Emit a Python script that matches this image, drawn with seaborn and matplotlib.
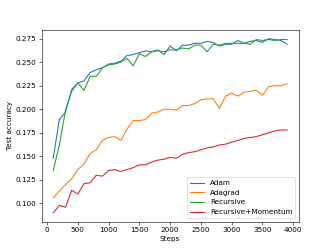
import pandas as pd
import numpy as np
import matplotlib
matplotlib.use("Agg")
import matplotlib.pyplot as plt
import seaborn as sns

steps = list(range(100, 4000, 100))

adam = [0.148, 0.189, 0.197, 0.221, 0.228, 0.230, 0.239, 0.242, 0.244, 0.248,
        0.249, 0.251, 0.257, 0.258, 0.260, 0.262, 0.261, 0.263, 0.258, 0.267,
        0.262, 0.268, 0.268, 0.270, 0.270, 0.272, 0.271, 0.267, 0.269, 0.269,
        0.273, 0.270, 0.272, 0.273, 0.271, 0.275, 0.274, 0.273, 0.269]

adagrad = [0.106, 0.113, 0.120, 0.126, 0.136, 0.142, 0.153, 0.157, 0.167, 0.170,
           0.171, 0.167, 0.179, 0.188, 0.188, 0.189, 0.196, 0.197, 0.200, 0.200,
           0.199, 0.204, 0.204, 0.206, 0.210, 0.211, 0.211, 0.201, 0.214, 0.217,
           0.214, 0.218, 0.219, 0.220, 0.215, 0.224, 0.225, 0.225, 0.227]

recursive = [0.135, 0.162, 0.199, 0.219, 0.228, 0.220, 0.235, 0.235, 0.244, 0.247,
             0.248, 0.250, 0.254, 0.246, 0.259, 0.256, 0.261, 0.262, 0.261, 0.263,
             0.263, 0.265, 0.264, 0.268, 0.268, 0.261, 0.269, 0.268, 0.270, 0.270,
             0.270, 0.270, 0.269, 0.274, 0.273, 0.274, 0.273, 0.274, 0.274]

momentum = [0.090, 0.098, 0.096, 0.114, 0.110, 0.121, 0.122, 0.130, 0.129, 0.135,
            0.136, 0.134, 0.136, 0.138, 0.141, 0.141, 0.144, 0.146, 0.147, 0.149,
            0.148, 0.152, 0.154, 0.155, 0.157, 0.159, 0.160, 0.162, 0.163, 0.165,
            0.167, 0.169, 0.170, 0.171, 0.173, 0.175, 0.177, 0.178, 0.178]

labels = ["Adam", "Adagrad", "Recursive", "Recursive+Momentum"]

df = pd.concat([
    pd.DataFrame({"Steps": steps, "acc": vals, "method": name})
    for name, vals in zip(labels, [adam, adagrad, recursive, momentum])
])

fig, ax = plt.subplots(figsize=(6.4, 4.8), dpi=332 / 6.4)

sns.lineplot(data=df, x="Steps", y="acc", hue="method", hue_order=labels,
             palette="tab10", linewidth=1.5, ax=ax)

ax.set_xlabel("Steps")
ax.set_ylabel("Test accuracy")
ax.set_xticks([0, 500, 1000, 1500, 2000, 2500, 3000, 3500, 4000])
ax.legend(loc="lower right", title=None)

fig.savefig("out.png", dpi=332 / 6.4)
